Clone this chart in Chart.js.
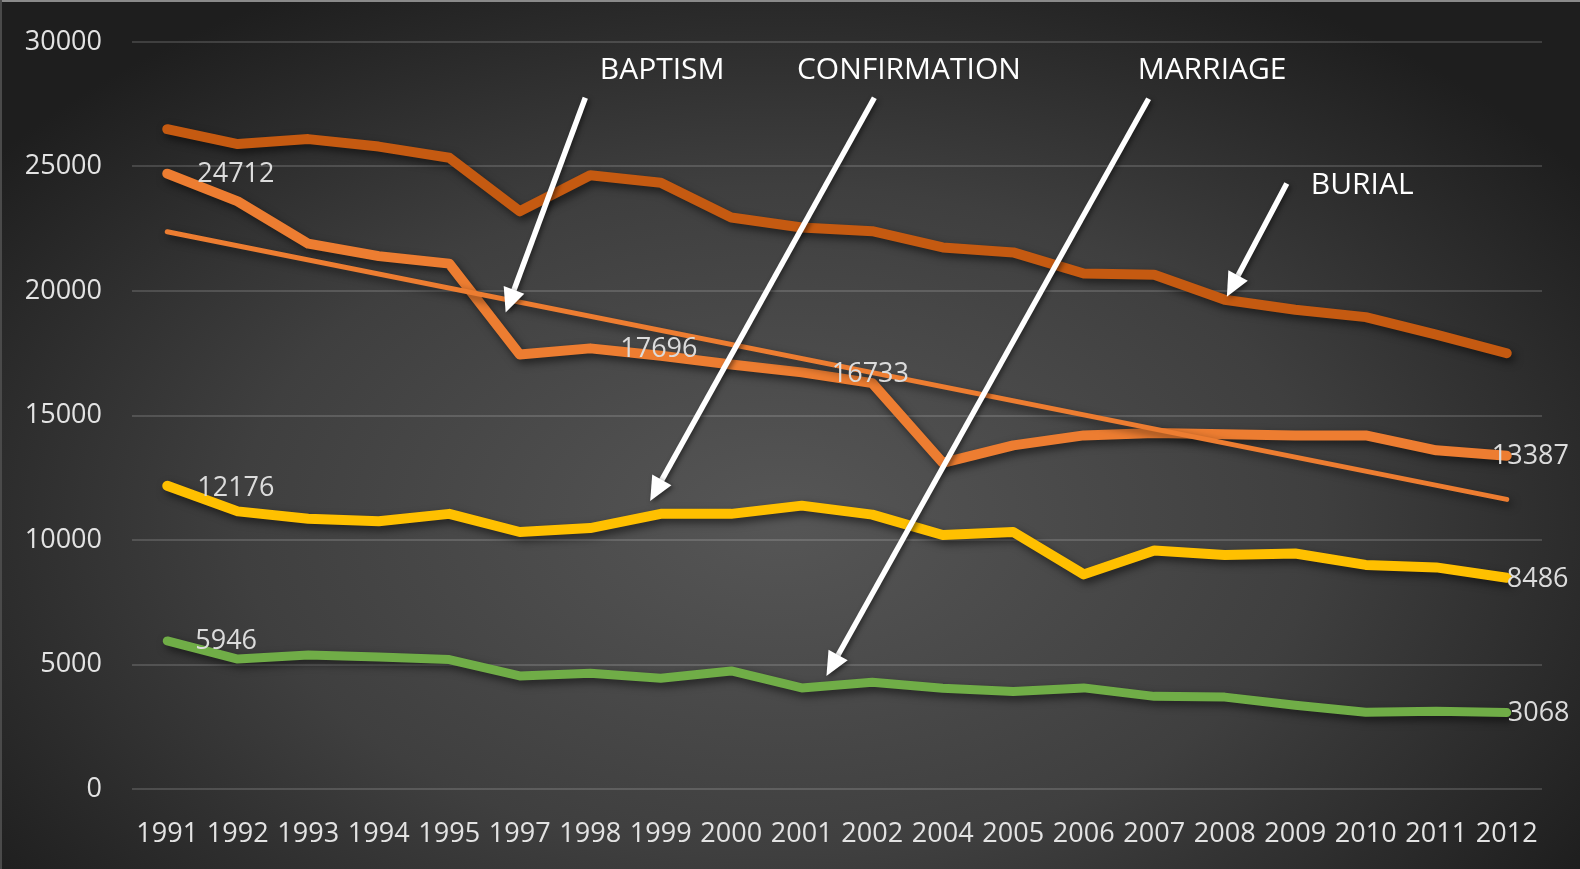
<!DOCTYPE html>
<html>
<head>
<meta charset="utf-8">
<script src="https://cdn.jsdelivr.net/npm/chart.js@4/dist/chart.umd.min.js"></script>
<style>
html,body{margin:0;padding:0;background:#262626;}
#wrap{width:1580px;height:869px;position:relative;overflow:hidden;}
canvas{display:block;}
</style>
</head>
<body>
<div id="wrap"><canvas id="c" width="1580" height="869"></canvas></div>
<script>
// ---- data ----
const years = ['1991','1992','1993','1994','1995','1997','1998','1999','2000','2001','2002','2004','2005','2006','2007','2008','2009','2010','2011','2012'];
const burial = [26500,25900,26100,25800,25350,23200,24650,24350,22950,22550,22400,21750,21550,20700,20650,19650,19250,18950,18250,17500];
const baptism = [24712,23600,21900,21400,21100,17450,17696,17400,17050,16733,16300,13100,13800,14200,14300,14250,14200,14200,13600,13387];
const confirmation = [12176,11150,10850,10750,11050,10320,10480,11050,11050,11380,11020,10200,10320,8620,9580,9400,9460,9000,8900,8486];
const marriage = [5946,5220,5380,5300,5200,4540,4650,4450,4740,4060,4290,4050,3920,4060,3720,3690,3360,3080,3120,3068];
const baptismTrendEnds = [22380, 11630]; // trendline read at 1991 and 2012
const yTicks = [0,5000,10000,15000,20000,25000,30000];
const seriesNames = ['BURIAL','BAPTISM','CONFIRMATION','MARRIAGE'];

const baptismTrend = years.map((_, i) => i === 0 ? baptismTrendEnds[0] : (i === years.length - 1 ? baptismTrendEnds[1] : null));

// data labels: dataset index, point index, offsets
const labelSpecs = [
  {ds:1, i:0, dx:30, dy:1}, {ds:1, i:6, dx:30, dy:1}, {ds:1, i:9, dx:30, dy:2}, {ds:1, i:19, dx:-15, dy:1},
  {ds:2, i:0, dx:30, dy:2}, {ds:2, i:19, dx:0, dy:2},
  {ds:3, i:0, dx:28, dy:0}, {ds:3, i:19, dx:1, dy:1}
];
// annotations in data space (category index, value)
const annotations = [
  {text:'BAPTISM', tx:7.02, tv:28850, ax1:5.93, av1:27760, ax2:4.80, av2:19140},
  {text:'CONFIRMATION', tx:10.52, tv:28850, ax1:10.03, av1:27760, ax2:6.85, av2:11570},
  {text:'MARRIAGE', tx:14.82, tv:28850, ax1:13.92, av1:27720, ax2:9.35, av2:4540},
  {text:'BURIAL', tx:16.95, tv:24250, ax1:15.88, av1:24320, ax2:15.03, av2:19770}
];

const FONT = "'Open Sans', 'DejaVu Sans', sans-serif";
const TEXT = '#e3e3e3';

const bgPlugin = {
  id:'bg',
  beforeDraw(chart){
    const ctx = chart.ctx, W = chart.width, H = chart.height;
    ctx.save();
    ctx.fillStyle = '#1f1f1f';
    ctx.fillRect(0,0,W,H);
    ctx.translate(780, 520);
    ctx.scale(1, 0.62);
    const g = ctx.createRadialGradient(0,0,0,0,0,980);
    g.addColorStop(0, '#565656');
    g.addColorStop(0.55, '#3f3f3f');
    g.addColorStop(1, '#1e1e1e');
    ctx.fillStyle = g;
    ctx.fillRect(-900, -900, 1800, 1800);
    ctx.restore();
    ctx.save();
    ctx.strokeStyle = '#8a8a8a';
    ctx.lineWidth = 2;
    ctx.beginPath(); ctx.moveTo(0,1); ctx.lineTo(W,1); ctx.stroke();
    ctx.strokeStyle = '#4a4a4a';
    ctx.beginPath(); ctx.moveTo(1,0); ctx.lineTo(1,H); ctx.stroke();
    ctx.restore();
  }
};

const shadowPlugin = {
  id:'shadow',
  beforeDatasetDraw(chart){
    const ctx = chart.ctx;
    ctx.save();
    ctx.shadowColor = 'rgba(0,0,0,0.55)';
    ctx.shadowBlur = 8;
    ctx.shadowOffsetX = 3;
    ctx.shadowOffsetY = 4;
  },
  afterDatasetDraw(chart){
    chart.ctx.restore();
  }
};

function drawArrow(ctx, x1, y1, x2, y2){
  const ang = Math.atan2(y2-y1, x2-x1);
  const headLen = 24, headW = 11;
  const bx = x2 - headLen*Math.cos(ang), by = y2 - headLen*Math.sin(ang);
  ctx.beginPath();
  ctx.moveTo(x1, y1);
  ctx.lineTo(bx + 2*Math.cos(ang), by + 2*Math.sin(ang));
  ctx.lineWidth = 5.5;
  ctx.lineCap = 'butt';
  ctx.stroke();
  ctx.beginPath();
  ctx.moveTo(x2, y2);
  ctx.lineTo(bx + headW*Math.sin(ang), by - headW*Math.cos(ang));
  ctx.lineTo(bx - headW*Math.sin(ang), by + headW*Math.cos(ang));
  ctx.closePath();
  ctx.fill();
}

const overlayPlugin = {
  id:'overlay',
  afterDatasetsDraw(chart){
    const ctx = chart.ctx;
    const xs = chart.scales.x, ys = chart.scales.y;
    const xAt = v => xs.getPixelForValue(0) + v * (xs.getPixelForValue(1) - xs.getPixelForValue(0));
    // data labels
    ctx.save();
    ctx.font = "27px " + FONT;
    ctx.fillStyle = '#dcdcdc';
    ctx.textAlign = 'left';
    ctx.textBaseline = 'middle';
    labelSpecs.forEach(s => {
      const pt = chart.getDatasetMeta(s.ds).data[s.i];
      const val = chart.data.datasets[s.ds].data[s.i];
      ctx.fillText(String(val), pt.x + s.dx, pt.y + s.dy);
    });
    ctx.restore();
    // annotations
    ctx.save();
    ctx.fillStyle = '#ffffff';
    ctx.strokeStyle = '#ffffff';
    ctx.shadowColor = 'rgba(0,0,0,0.5)';
    ctx.shadowBlur = 5;
    ctx.shadowOffsetX = 2;
    ctx.shadowOffsetY = 2;
    annotations.forEach(a => {
      drawArrow(ctx, xAt(a.ax1), ys.getPixelForValue(a.av1), xAt(a.ax2), ys.getPixelForValue(a.av2));
    });
    ctx.shadowColor = 'transparent';
    ctx.font = "30px " + FONT;
    ctx.textAlign = 'center';
    ctx.textBaseline = 'middle';
    annotations.forEach(a => {
      ctx.fillText(a.text, xAt(a.tx), ys.getPixelForValue(a.tv));
    });
    ctx.restore();
  }
};

const lineStyle = (color, w) => ({
  borderColor: color, backgroundColor: color, borderWidth: w,
  pointRadius: 0, pointHoverRadius: 0, tension: 0, fill: false,
  borderCapStyle: 'round', borderJoinStyle: 'round'
});

new Chart(document.getElementById('c'), {
  type: 'line',
  data: {
    labels: years,
    datasets: [
      Object.assign({label: seriesNames[0], data: burial, order: 4}, lineStyle('#C55A11', 10)),
      Object.assign({label: seriesNames[1], data: baptism, order: 2}, lineStyle('#ED7D31', 10)),
      Object.assign({label: seriesNames[2], data: confirmation, order: 3}, lineStyle('#FFC000', 10)),
      Object.assign({label: seriesNames[3], data: marriage, order: 5}, lineStyle('#70AD47', 9)),
      Object.assign({label: 'Linear (BAPTISM)', data: baptismTrend, spanGaps: true, order: 1}, lineStyle('#ED7D31', 5))
    ]
  },
  options: {
    responsive: false,
    devicePixelRatio: 1,
    animation: false,
    events: [],
    layout: { padding: { top: 42, right: 38, bottom: 0, left: 0 } },
    plugins: { legend: { display: false }, tooltip: { enabled: false } },
    scales: {
      x: {
        type: 'category',
        offset: true,
        grid: { display: false, drawTicks: false },
        border: { display: false },
        ticks: { color: TEXT, font: { family: FONT, size: 27 }, padding: 29, maxRotation: 0, autoSkip: false },
        afterFit(s){ s.height = 80; s.paddingLeft = 0; s.paddingRight = 0; }
      },
      y: {
        min: 0, max: 30000,
        grid: { color: 'rgba(255,255,255,0.15)', lineWidth: 2, drawTicks: false },
        border: { display: false },
        afterBuildTicks(s){ s.ticks = yTicks.map(v => ({value: v})); },
        ticks: { color: TEXT, font: { family: FONT, size: 27 }, padding: 30, callback: v => String(v) },
        afterFit(s){ s.width = 132; s.paddingTop = 0; s.paddingBottom = 0; }
      }
    }
  },
  plugins: [bgPlugin, shadowPlugin, overlayPlugin]
});
</script>
</body>
</html>
